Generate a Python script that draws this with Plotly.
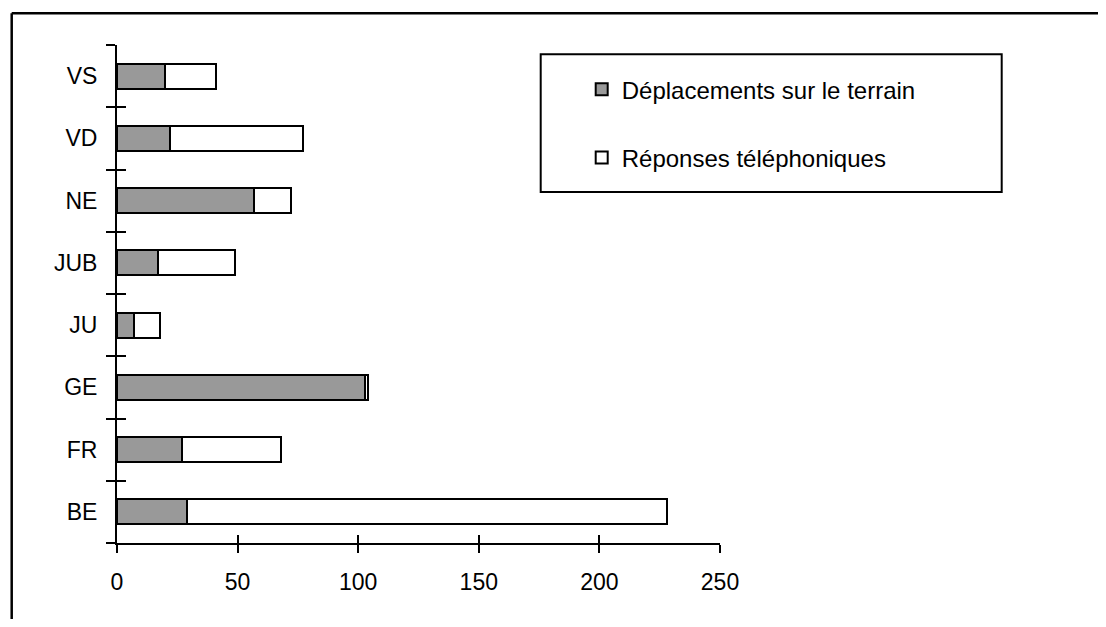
import plotly.graph_objects as go

# ---- data ----
regions = ["BE", "FR", "GE", "JU", "JUB", "NE", "VD", "VS"]
deplacements = [29, 27, 103, 7, 17, 57, 22, 20]
reponses = [199, 41, 1, 11, 32, 15, 55, 21]
x_ticks = [0, 50, 100, 150, 200, 250]
series_names = ["Déplacements sur le terrain", "Réponses téléphoniques"]

# ---- layout geometry (pixels, in screen coords; page has 8px body margin) ----
OFF = 8
W, H = 1106 - 2 * OFF, 627 - 2 * OFF
L, R, T, B = 117.3 - OFF, 720.3 - OFF, 44.7 - OFF, 543.3 - OFF  # plot area edges
PW, PH = R - L, B - T


def px(x):
    return (x - OFF - L) / PW


def py(y):
    return (B - (y - OFF)) / PH


FONT = "Liberation Sans, Arial, sans-serif"

fig = go.Figure()
fig.add_trace(go.Bar(
    y=regions, x=deplacements, orientation="h", name=series_names[0],
    marker=dict(color="#999999", line=dict(color="black", width=2)),
    legendgroup="a", hoverinfo="x+y",
))
fig.add_trace(go.Bar(
    y=regions, x=reponses, orientation="h", name=series_names[1],
    marker=dict(color="white", line=dict(color="black", width=2)),
    legendgroup="b", hoverinfo="x+y",
))
# invisible trace for overlay axes (inside half of cross ticks)
fig.add_trace(go.Scatter(
    y=regions, x=[0] * len(regions), mode="markers", marker=dict(opacity=0),
    xaxis="x2", yaxis="y2", showlegend=False, hoverinfo="skip",
))

common_x = dict(range=[0, 250], tickvals=x_ticks, showgrid=False, zeroline=False,
                tickcolor="black", tickwidth=2, ticklen=8)
common_y = dict(type="category", categoryarray=regions, categoryorder="array",
                range=[-0.5, 7.5], tickson="boundaries", showgrid=False,
                tickcolor="black", tickwidth=2, ticklen=9)

fig.update_layout(
    width=W, height=H,
    margin=dict(l=L, r=W - R, t=T, b=H - B, pad=0),
    paper_bgcolor="white", plot_bgcolor="white",
    barmode="stack", bargap=0.6,
    font=dict(family=FONT, size=23, color="black"),
    xaxis=dict(**common_x, ticks="outside", showline=True, linecolor="black", linewidth=2,
               ticklabelstandoff=9, tickfont=dict(size=23)),
    yaxis=dict(**common_y, ticks="outside", showline=True, linecolor="black", linewidth=2,
               ticklabelstandoff=13, tickfont=dict(size=23)),
    xaxis2=dict(**common_x, ticks="inside", overlaying="x", anchor="y2",
                showticklabels=False, showline=False),
    yaxis2=dict(**common_y, ticks="inside", overlaying="y", anchor="x2",
                showticklabels=False, showline=False),
    legend=dict(
        x=px(582), y=py(67), xanchor="left", yanchor="top",
        traceorder="grouped", tracegroupgap=34,
        bgcolor="rgba(0,0,0,0)", borderwidth=0,
        font=dict(family=FONT, size=24, color="black"),
    ),
    showlegend=True,
    shapes=[
        # outer frame: top and left edges
        dict(type="line", xref="paper", yref="paper", x0=px(12), x1=px(1106),
             y0=py(13), y1=py(13), line=dict(color="black", width=2.5)),
        dict(type="line", xref="paper", yref="paper", x0=px(12), x1=px(12),
             y0=py(13), y1=py(627), line=dict(color="black", width=2.5)),
        # legend box
        dict(type="rect", xref="paper", yref="paper", x0=px(541), x1=px(1002),
             y0=py(54), y1=py(192), line=dict(color="black", width=2), layer="below"),
    ],
)

fig.write_html("out.html")
